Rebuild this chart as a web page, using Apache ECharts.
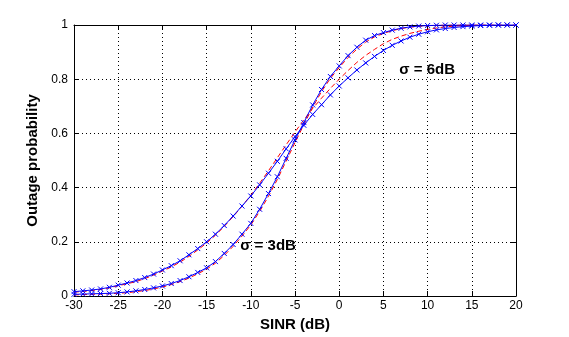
<!DOCTYPE html>
<html>
<head>
<meta charset="utf-8">
<script src="https://cdn.jsdelivr.net/npm/echarts@6/dist/echarts.min.js"></script>
<style>
html,body{margin:0;padding:0;background:#fff;}
#c{width:569px;height:337px;}
</style>
</head>
<body>
<div id="c"></div>
<script>
// SINR (dB) sample points
const sinr = [-30,-29,-28,-27,-26,-25,-24,-23,-22,-21,-20,-19,-18,-17,-16,-15,-14,-13,-12,-11,-10,-9,-8,-7,-6,-5,-4,-3,-2,-1,0,1,2,3,4,5,6,7,8,9,10,11,12,13,14,15,16,17,18,19,20];

// sigma = 6 dB, simulated (blue x)
const sim6 = [0.016,0.019,0.022,0.026,0.032,0.040,0.048,0.057,0.068,0.081,0.096,0.112,0.130,0.152,0.175,0.200,0.228,0.260,0.295,0.332,0.369,0.410,0.453,0.497,0.543,0.588,0.630,0.670,0.706,0.742,0.775,0.805,0.834,0.860,0.884,0.906,0.925,0.941,0.955,0.966,0.975,0.982,0.987,0.991,0.994,0.996,0.998,0.999,1.0,1.0,1.0];
// sigma = 6 dB, analytical (red dashed)
const ana6 = [0.014,0.017,0.020,0.024,0.030,0.038,0.045,0.053,0.064,0.077,0.092,0.107,0.125,0.146,0.170,0.195,0.224,0.257,0.293,0.331,0.372,0.416,0.462,0.510,0.558,0.605,0.650,0.692,0.730,0.766,0.800,0.832,0.862,0.888,0.910,0.931,0.947,0.959,0.969,0.977,0.984,0.989,0.993,0.996,0.998,0.999,1.0,1.0,1.0,1.0,1.0];

// sigma = 3 dB, simulated (blue x)
const sim3 = [0.006,0.007,0.008,0.009,0.010,0.012,0.015,0.019,0.024,0.030,0.037,0.046,0.057,0.071,0.087,0.104,0.127,0.157,0.190,0.228,0.268,0.320,0.378,0.440,0.508,0.576,0.640,0.705,0.762,0.810,0.849,0.887,0.918,0.944,0.961,0.972,0.981,0.988,0.993,0.996,0.998,0.999,1.0,1.0,1.0,1.0,1.0,1.0,1.0,1.0,1.0];
// sigma = 3 dB, analytical (red dashed)
const ana3 = [0.004,0.005,0.006,0.007,0.008,0.010,0.012,0.016,0.020,0.026,0.033,0.042,0.053,0.066,0.082,0.099,0.121,0.150,0.183,0.221,0.262,0.312,0.368,0.430,0.498,0.566,0.632,0.697,0.754,0.803,0.843,0.880,0.911,0.937,0.956,0.969,0.979,0.987,0.992,0.995,0.997,0.999,1.0,1.0,1.0,1.0,1.0,1.0,1.0,1.0,1.0];

const xTicks = {min:-30, max:20, interval:5};
const yTicks = {min:0, max:1, interval:0.2};
const notes = [
  {text:'σ = 3dB', x:-11.2, y:0.18},
  {text:'σ = 6dB', x:6.8, y:0.83}
];

const pair = arr => sinr.map((x,i)=>[x, arr[i]]);
const xMark = 'path://M0,0L10,10M10,0L0,10';
const font = '"Liberation Sans", Arial, Helvetica, sans-serif';

const chart = echarts.init(document.getElementById('c'), null, {renderer:'canvas'});
const dotted = {show:true, lineStyle:{color:'#000', width:1, type:[1,3]}};
const axisLine = {show:true, onZero:false, lineStyle:{color:'#000', width:1}};
const tick = {show:true, inside:true, length:5, lineStyle:{color:'#000'}};

function blue(name, arr){
  return {
    type:'line', name, data:pair(arr), xAxisIndex:0, yAxisIndex:0,
    symbol:xMark, symbolSize:5, showSymbol:true,
    lineStyle:{color:'#0000ff', width:1},
    itemStyle:{color:'#0000ff', borderColor:'#0000ff', borderWidth:1},
    emphasis:{disabled:true}, animation:false, z:3
  };
}
function red(name, arr){
  return {
    type:'line', name, data:pair(arr), xAxisIndex:0, yAxisIndex:0,
    symbol:'none',
    lineStyle:{color:'#ff0000', width:1, type:[5,3]},
    emphasis:{disabled:true}, animation:false, z:2
  };
}

chart.setOption({
  animation:false,
  backgroundColor:'#fff',
  grid:{left:74, right:53, top:25, bottom:41, containLabel:false},
  xAxis:[
    {type:'value', min:xTicks.min, max:xTicks.max, interval:xTicks.interval, position:'bottom',
     axisLine, axisTick:tick, splitLine:dotted,
     axisLabel:{color:'#000', fontSize:12, fontFamily:font, margin:4},
     name:'SINR (dB)', nameLocation:'middle', nameGap:20,
     nameTextStyle:{color:'#000', fontSize:15, fontWeight:'bold', fontFamily:font}},
    {type:'value', min:xTicks.min, max:xTicks.max, interval:xTicks.interval, position:'top',
     axisLine, axisTick:tick, splitLine:{show:false}, axisLabel:{show:false}}
  ],
  yAxis:[
    {type:'value', min:yTicks.min, max:yTicks.max, interval:yTicks.interval, position:'left',
     axisLine, axisTick:tick, splitLine:dotted,
     axisLabel:{color:'#000', fontSize:12, fontFamily:font, margin:6,
       formatter:v => (v===0||v===1) ? String(v) : v.toFixed(1)},
     name:'Outage probability', nameLocation:'middle', nameGap:28,
     nameTextStyle:{color:'#000', fontSize:15, fontWeight:'bold', fontFamily:font}},
    {type:'value', min:yTicks.min, max:yTicks.max, interval:yTicks.interval, position:'right',
     axisLine, axisTick:tick, splitLine:{show:false}, axisLabel:{show:false}}
  ],
  series:[
    red('σ=6dB analysis', ana6),
    red('σ=3dB analysis', ana3),
    blue('σ=6dB simulation', sim6),
    blue('σ=3dB simulation', sim3)
  ]
});

chart.setOption({
  graphic: notes.map(n => {
    const p = chart.convertToPixel({xAxisIndex:0, yAxisIndex:0}, [n.x, n.y]);
    return {type:'text', left:p[0], top:p[1]-9, z:10,
      style:{text:n.text, fill:'#000', font:'bold 15px ' + font}};
  })
});
</script>
</body>
</html>
